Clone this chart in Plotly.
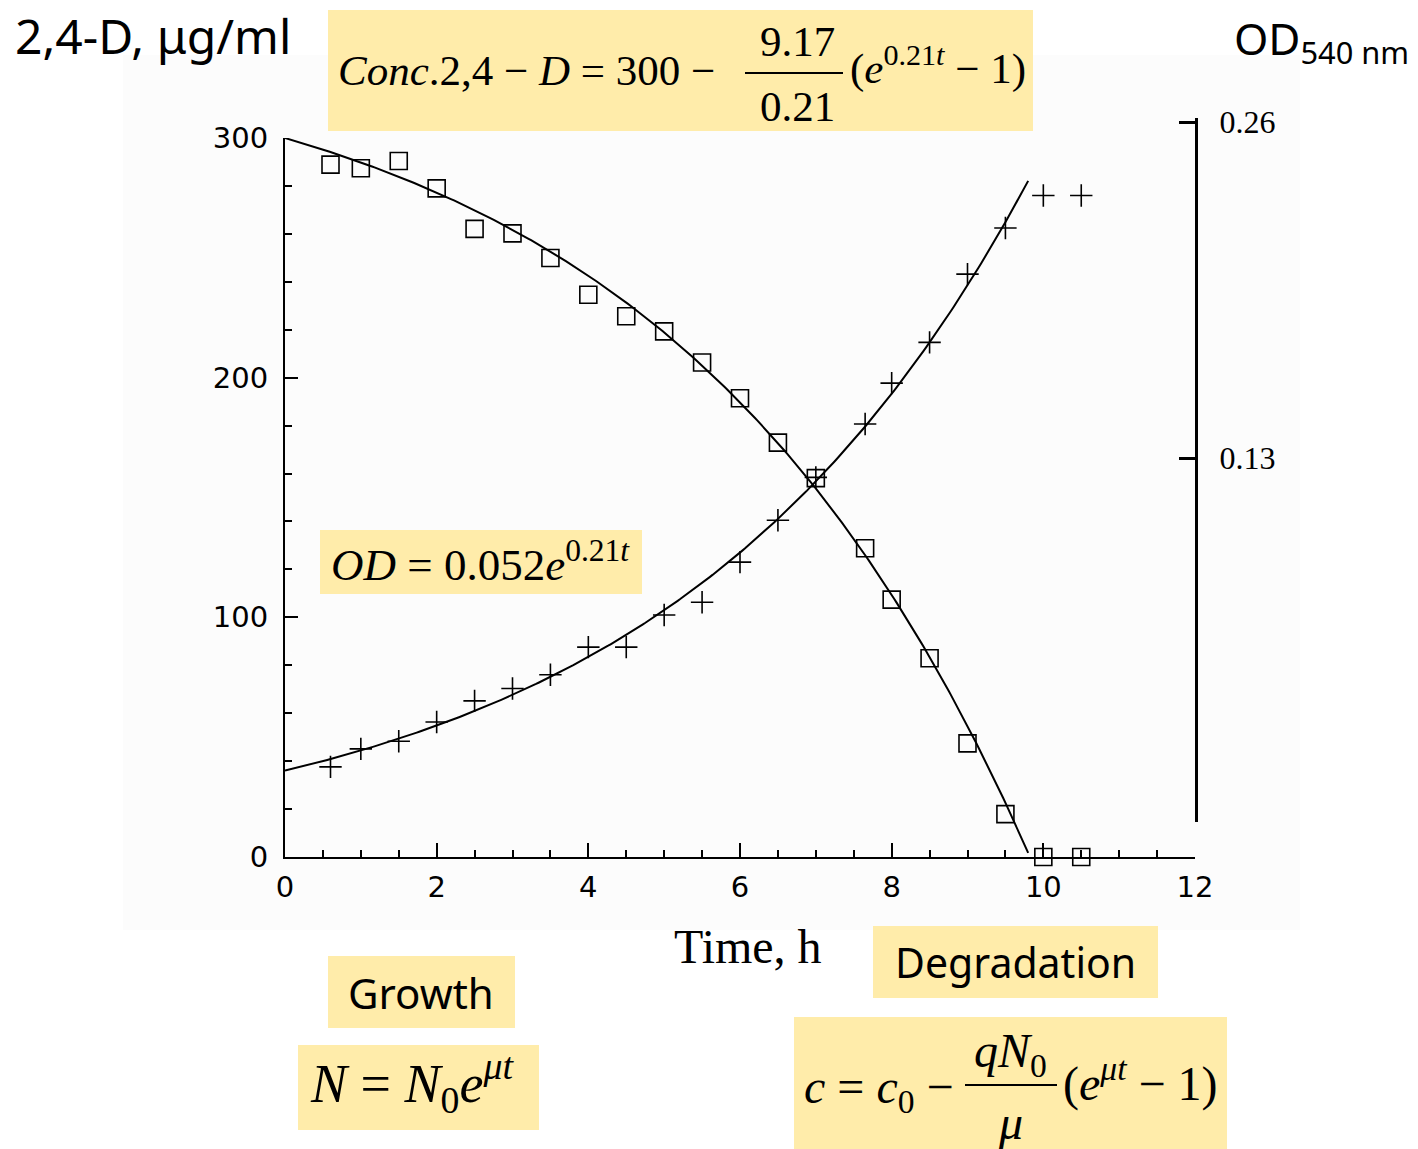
import numpy as np
import plotly.graph_objects as go

# ---- measured data -------------------------------------------------------
time_h = [0.6, 1.0, 1.5, 2.0, 2.5, 3.0, 3.5, 4.0, 4.5, 5.0, 5.5, 6.0, 6.5,
          7.0, 7.65, 8.0, 8.5, 9.0, 9.5, 10.0, 10.5]
conc_24d = [288.9, 287.4, 290.4, 279.0, 262.1, 260.2, 249.9, 234.6, 225.6,
            219.3, 206.3, 191.4, 172.9, 158.1, 128.8, 107.4, 82.9, 47.4,
            17.9, 0.0, 0.0]
od_540 = [0.0543, 0.0651, 0.0697, 0.0813, 0.0940, 0.1015, 0.1098, 0.1264,
          0.1264, 0.1457, 0.1534, 0.1776, 0.2028, 0.2286, 0.2608, 0.2854,
          0.3099, 0.3510, 0.3788, 0.3984, 0.3984]

# ---- fitted model parameters --------------------------------------------
c0 = 300.0       # initial 2,4-D, ug/ml
q_n0 = 9.17      # q * N0
mu = 0.21        # specific growth rate, 1/h
od0 = 0.052      # initial OD540
fit_end = 9.8    # h

t_fit = np.linspace(0.0, fit_end, 300)
conc_fit = c0 - q_n0 / mu * (np.exp(mu * t_fit) - 1.0)
od_fit = od0 * np.exp(mu * t_fit)

# right-hand OD scale shown beside the plot
od_axis_ticks = [0.13, 0.26]
od_axis_labels = ["0.13", "0.26"]

# ---- page geometry (pixels) ---------------------------------------------
W, H = 1418, 1149
X0, X1 = 285, 1195          # plot left / right
Y_BOT, Y_TOP = 857, 118     # paper bottom / top (pixels from page top)
PW, PH = X1 - X0, Y_BOT - Y_TOP


def px(x):
    return (x - X0) / PW


def py(y):
    return (Y_BOT - y) / PH


SERIF = "Liberation Serif"
SANS = "Noto Sans"
AXIS_FONT = "DejaVu Sans"
BOX = "#FFECAA"

fig = go.Figure()

# fitted curves
fig.add_trace(go.Scatter(x=t_fit, y=conc_fit, mode="lines",
                         line=dict(color="black", width=2),
                         showlegend=False, hoverinfo="skip"))
fig.add_trace(go.Scatter(x=t_fit, y=od_fit, mode="lines", yaxis="y2",
                         line=dict(color="black", width=2),
                         showlegend=False, hoverinfo="skip"))
# measurements
fig.add_trace(go.Scatter(x=time_h, y=conc_24d, mode="markers",
                         marker=dict(symbol="square-open", size=17,
                                     color="black", line=dict(width=1.6)),
                         showlegend=False, cliponaxis=False))
fig.add_trace(go.Scatter(x=time_h, y=od_540, mode="markers", yaxis="y2",
                         marker=dict(symbol="cross-thin-open", size=16,
                                     color="black", line=dict(width=1.6)),
                         showlegend=False, cliponaxis=False))
# empty trace that attaches the separate OD scale to the x axis
fig.add_trace(go.Scatter(x=[], y=[], yaxis="y3", mode="markers",
                         showlegend=False, hoverinfo="skip"))

y_main_top = py(138)
y_od_bottom = py(822)
# OD scale beside the plot: 0.26 at 122 px, 0.13 at 458 px
od_per_px = 0.13 / (458 - 122)
od_rng = [0.13 - (822 - 458) * od_per_px, 0.26 + (122 - 118) * od_per_px]

tick_common = dict(showgrid=False, zeroline=False, showline=True,
                   linecolor="black", tickcolor="black", ticks="inside")

fig.update_layout(
    width=W, height=H,
    margin=dict(l=X0, r=W - X1, t=Y_TOP, b=H - Y_BOT, pad=0),
    paper_bgcolor="white", plot_bgcolor="rgba(0,0,0,0)",
    xaxis=dict(range=[0, 12], domain=[0, 1], anchor="y", tick0=0, dtick=2,
               linewidth=2, ticklen=14, tickwidth=2,
               minor=dict(dtick=0.5, ticks="inside", ticklen=7,
                          tickwidth=1.5, tickcolor="black"),
               tickfont=dict(family=AXIS_FONT, size=29, color="black"),
               ticklabelstandoff=3, **tick_common),
    yaxis=dict(range=[0, 300], domain=[0, y_main_top], anchor="x",
               tick0=0, dtick=100, linewidth=2, ticklen=13, tickwidth=2,
               minor=dict(dtick=20, ticks="inside", ticklen=7,
                          tickwidth=1.5, tickcolor="black"),
               tickfont=dict(family=AXIS_FONT, size=29, color="black"),
               ticklabelstandoff=9, **tick_common),
    yaxis2=dict(overlaying="y", range=[0, 0.433], visible=False),
    yaxis3=dict(domain=[y_od_bottom, 1.0], anchor="x", side="right",
                range=od_rng, tickvals=od_axis_ticks,
                ticktext=od_axis_labels, linewidth=3, ticklen=16,
                tickwidth=3,
                tickfont=dict(family=SERIF, size=32, color="black"),
                ticklabelstandoff=15, **tick_common),
)

# faint backdrop of the figure panel
fig.add_shape(type="rect", xref="paper", yref="paper",
              x0=px(123), x1=px(1300), y0=py(930), y1=py(55),
              fillcolor="#FCFCFC", line=dict(width=0), layer="below")

# highlight boxes
boxes = [(328, 10, 1033, 131), (320, 530, 642, 594), (328, 956, 515, 1028),
         (298, 1045, 539, 1130), (873, 926, 1158, 998),
         (794, 1017, 1227, 1149)]
for xa, ya, xb, yb in boxes:
    fig.add_shape(type="rect", xref="paper", yref="paper",
                  x0=px(xa), x1=px(xb), y0=py(yb), y1=py(ya),
                  fillcolor=BOX, line=dict(width=0), layer="below")

# fraction bars
for xa, xb, yy in [(745, 843, 73), (965, 1057, 1085)]:
    fig.add_shape(type="line", xref="paper", yref="paper",
                  x0=px(xa), x1=px(xb), y0=py(yy), y1=py(yy),
                  line=dict(color="black", width=2))


def label(text, x, y, size, family=SERIF, anchor="left"):
    fig.add_annotation(text=text, xref="paper", yref="paper",
                       x=px(x), y=py(y), xanchor=anchor, yanchor="middle",
                       showarrow=False,
                       font=dict(family=family, size=size, color="black"))


# axis titles
label("2,4-D, μg/ml", 153, 35, 48, SANS, "center")
label("OD<sub>540 nm</sub>", 1232, 40, 44, SANS)
label("Time, h", 748, 946, 48, SERIF, "center")

# degradation model
label("<i>Conc</i>.2,4 − <i>D</i> = 300 −", 336, 70, 43)
label("9.17", 797, 42, 43, SERIF, "center")
label("0.21", 797, 106, 43, SERIF, "center")
label("(<i>e</i><sup>0.21<i>t</i></sup> − 1)", 848, 66, 43)

# growth model
label("<i>OD</i> = 0.052<i>e</i><sup>0.21<i>t</i></sup>", 329, 561, 45)

# general forms
label("Growth", 421, 992, 42, SANS, "center")
label("<i>N</i> = <i>N</i><sub>0</sub><i>e</i>"
      "<sup><i>μt</i></sup>", 308, 1083, 54)
label("Degradation", 1015, 962, 41, SANS, "center")
label("<i>c</i> = <i>c</i><sub>0</sub> −", 802, 1090, 48)
label("<i>qN</i><sub>0</sub>", 1010, 1054, 48, SERIF, "center")
label("<i>μ</i>", 1010, 1122, 48, SERIF, "center")
label("(<i>e</i><sup><i>μt</i></sup> − 1)", 1061, 1080, 48)

fig.write_html("out.html")
